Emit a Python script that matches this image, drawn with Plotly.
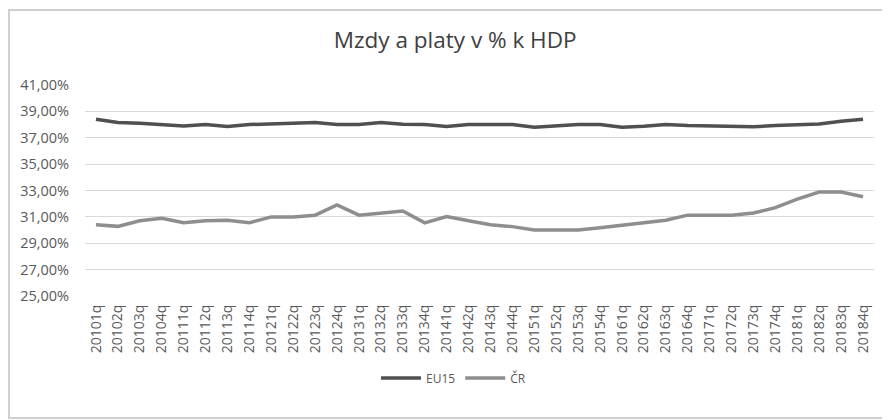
import plotly.graph_objects as go

categories = [f"{y}{q}q" for y in range(2010, 2019) for q in range(1, 5)]

eu15 = [38.4, 38.15, 38.1, 38.0, 37.9, 38.0, 37.86, 38.0, 38.05, 38.15, 38.15, 38.0,
        38.0, 38.15, 38.02, 38.0, 37.85, 38.0, 38.0, 38.0, 37.8, 37.88, 38.0, 38.0,
        37.8, 37.88, 38.0, 37.93, 37.9, 37.9, 37.83, 37.93, 38.02, 38.05, 38.25, 38.4]

cr = [30.4, 30.28, 30.7, 30.9, 30.55, 30.7, 30.75, 30.55, 31.0, 31.0, 31.13, 31.9,
      31.13, 31.29, 31.45, 30.55, 31.03, 30.7, 30.4, 30.26, 30.0, 30.0, 30.0, 30.18,
      30.36, 30.52, 30.74, 31.13, 31.13, 31.13, 31.29, 31.7, 32.34, 32.88, 32.88, 32.52]

y_ticks = [25, 27, 29, 31, 33, 35, 37, 39, 41]
y_ticktext = [f"{v},00%" for v in y_ticks]

fig = go.Figure()
fig.add_trace(go.Scatter(x=categories, y=eu15, mode="lines", name="EU15",
                         line=dict(color="#505050", width=3.5)))
fig.add_trace(go.Scatter(x=categories, y=cr, mode="lines", name="ČR",
                         line=dict(color="#8e8e8e", width=3.5)))

font_family = "Open Sans, Liberation Sans, sans-serif"

fig.update_layout(
    width=882, height=412,
    margin=dict(l=77, r=16, t=77, b=124, autoexpand=False),
    paper_bgcolor="white", plot_bgcolor="white",
    title=dict(text="Mzdy a platy v % k HDP", x=0.507, xanchor="center",
               y=0.922, yanchor="middle",
               font=dict(family=font_family, size=22.5, color="#404040")),
    font=dict(family=font_family, color="#595959"),
    showlegend=True,
    legend=dict(orientation="h", x=0.467, xanchor="center", y=-0.389, yanchor="middle",
                font=dict(size=12, color="#595959"), itemwidth=40,
                bgcolor="rgba(0,0,0,0)"),
    xaxis=dict(type="category", range=[-0.5, len(categories) - 0.5], tickangle=-90,
               showgrid=False, zeroline=False, automargin=False,
               showline=False, tickfont=dict(size=14, color="#595959"),
               ticks="outside", ticklen=2, tickcolor="rgba(0,0,0,0)"),
    yaxis=dict(range=[25, 41], tickvals=y_ticks, ticktext=y_ticktext, automargin=False,
               showgrid=True, gridcolor="#d9d9d9", gridwidth=1, zeroline=False,
               showline=False, tickfont=dict(size=14.5, color="#595959"),
               ticks="outside", ticklen=12, tickcolor="rgba(0,0,0,0)"),
    shapes=[dict(type="rect", xref="paper", yref="paper",
                 x0=-0.0963, x1=1.0165, y0=-0.578, y1=1.3555,
                 line=dict(color="#d0d0d0", width=2), fillcolor="rgba(0,0,0,0)")],
)

fig.write_html("out.html")
